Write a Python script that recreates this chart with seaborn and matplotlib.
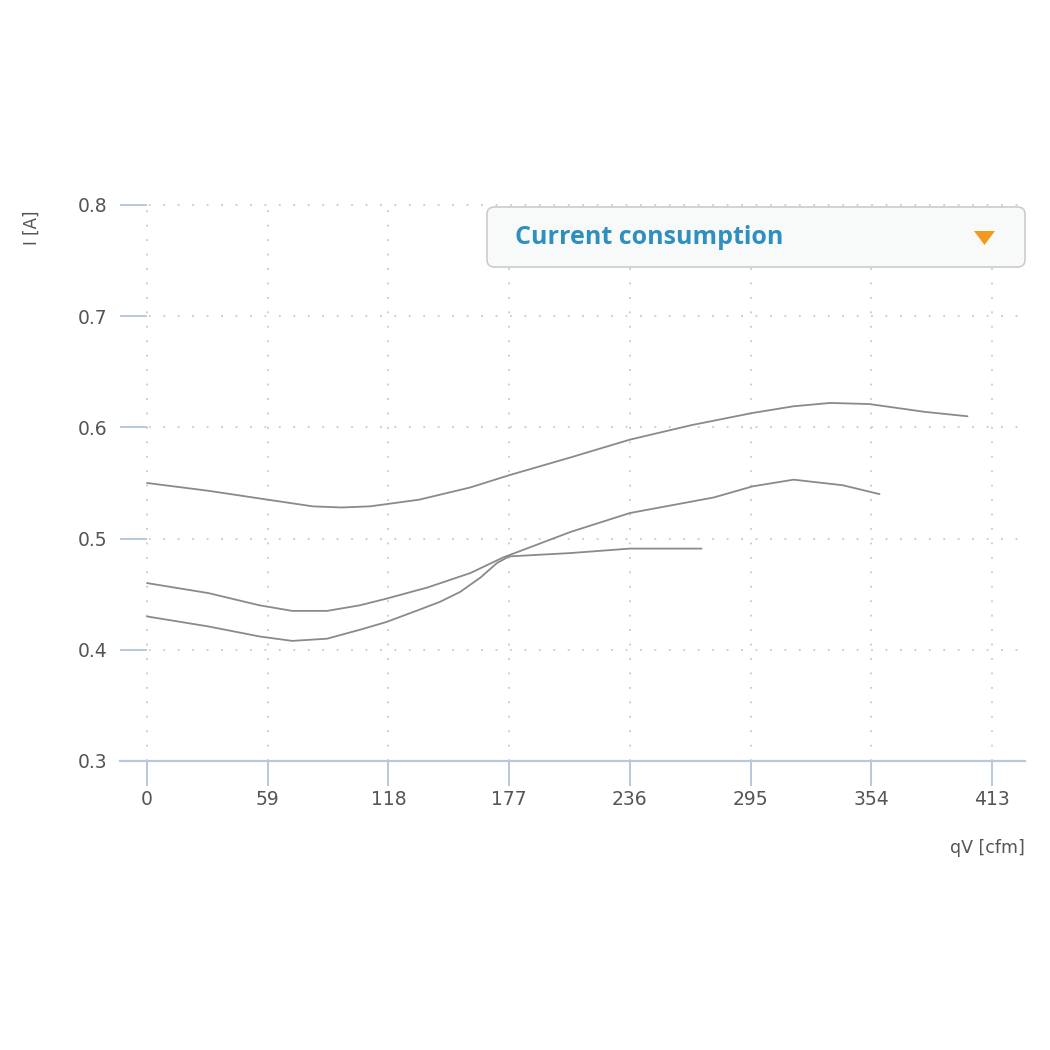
import matplotlib
matplotlib.use("Agg")
import matplotlib.pyplot as plt
from matplotlib.patches import FancyBboxPatch, Polygon
import seaborn as sns
import pandas as pd

# ---- data ----
x_ticks = [0, 59, 118, 177, 236, 295, 354, 413]
y_ticks = [0.3, 0.4, 0.5, 0.6, 0.7, 0.8]

curve1_x = [0, 30, 59, 81, 95, 109, 133, 158, 177, 207, 236, 266, 296, 316, 334, 353, 380, 401]
curve1_y = [0.550, 0.543, 0.535, 0.529, 0.528, 0.529, 0.535, 0.546, 0.557, 0.573, 0.589, 0.602, 0.613, 0.619, 0.622, 0.621, 0.614, 0.610]

curve2_x = [0, 30, 55, 71, 88, 104, 117, 137, 158, 174, 207, 236, 277, 296, 316, 340, 358]
curve2_y = [0.460, 0.451, 0.440, 0.435, 0.435, 0.440, 0.446, 0.456, 0.469, 0.483, 0.506, 0.523, 0.537, 0.547, 0.553, 0.548, 0.540]

curve3_x = [0, 30, 55, 71, 88, 104, 117, 133, 143, 153, 163, 171, 177, 207, 236, 271]
curve3_y = [0.430, 0.421, 0.412, 0.408, 0.410, 0.418, 0.425, 0.436, 0.443, 0.452, 0.465, 0.478, 0.484, 0.487, 0.491, 0.491]

frames = []
for name, xs, ys in [("c1", curve1_x, curve1_y), ("c2", curve2_x, curve2_y), ("c3", curve3_x, curve3_y)]:
    frames.append(pd.DataFrame({"qV": xs, "I": ys, "curve": name}))
df = pd.concat(frames, ignore_index=True)

sns.set_theme(style="white")
plt.rcParams['font.family'] = ['DejaVu Sans']

fig = plt.figure(figsize=(10.5, 10.5), dpi=100)
ax = fig.add_axes([120/1050, 1-761/1050, 905/1050, 556/1050])

sns.lineplot(data=df, x="qV", y="I", units="curve", estimator=None, sort=False,
             color="#8a8a8a", linewidth=1.3, ax=ax)
for ln in ax.get_lines():
    ln.set_solid_joinstyle("round")

ax.set_xlim(-13.2, 429.1)
ax.set_ylim(0.3, 0.8)
ax.set_xticks(x_ticks)
ax.set_yticks(y_ticks)
ax.set_xticklabels([str(v) for v in x_ticks])
ax.set_yticklabels([f"{v:.1f}" for v in y_ticks])

axis_col = "#b9c9dd"
for s in ["top", "right", "left"]:
    ax.spines[s].set_visible(False)
ax.spines["bottom"].set_color(axis_col)
ax.spines["bottom"].set_linewidth(1.6)

ax.tick_params(axis="x", direction="out", length=18, width=1.4, color=axis_col,
               labelsize=13.5, labelcolor="#555555", pad=3, bottom=True)
ax.tick_params(axis="y", direction="in", length=19.5, width=1.4, color=axis_col,
               labelsize=13.5, labelcolor="#555555", pad=9, left=True)

ax.grid(True, color="#cacaca", linewidth=1.3, linestyle=(0, (1, 7)))
ax.set_axisbelow(True)
for gl in ax.get_xgridlines() + ax.get_ygridlines():
    gl.set_clip_on(False)

ax.set_xlabel("")
ax.set_ylabel("")
fig.text(32/1050, 1-228/1050, "I [A]", rotation=90, ha="center", va="center",
         fontsize=12, color="#555555")
fig.text(1025/1050, 1-848/1050, "qV [cfm]", ha="right", va="center",
         fontsize=12.5, color="#555555")

# dropdown-like box
box = FancyBboxPatch((487/1050, 1-267/1050), 538/1050, 60/1050,
                     boxstyle="round,pad=0,rounding_size=0.007",
                     transform=fig.transFigure, facecolor="#f8f9f9",
                     edgecolor="#cccccc", linewidth=1.2, zorder=5)
fig.patches.append(box)
fig.text(515/1050, 1-237/1050, "Current consumption", ha="left", va="center",
         fontsize=18, fontweight="bold", color="#2f8fbf", zorder=6,
         family=["Open Sans", "DejaVu Sans"])
tri = Polygon([(974/1050, 1-231/1050), (995/1050, 1-231/1050), (984.5/1050, 1-245/1050)],
              closed=True, transform=fig.transFigure, facecolor="#f39a1e",
              edgecolor="none", zorder=6)
fig.patches.append(tri)

fig.savefig("out.png", dpi=100, facecolor="white")
